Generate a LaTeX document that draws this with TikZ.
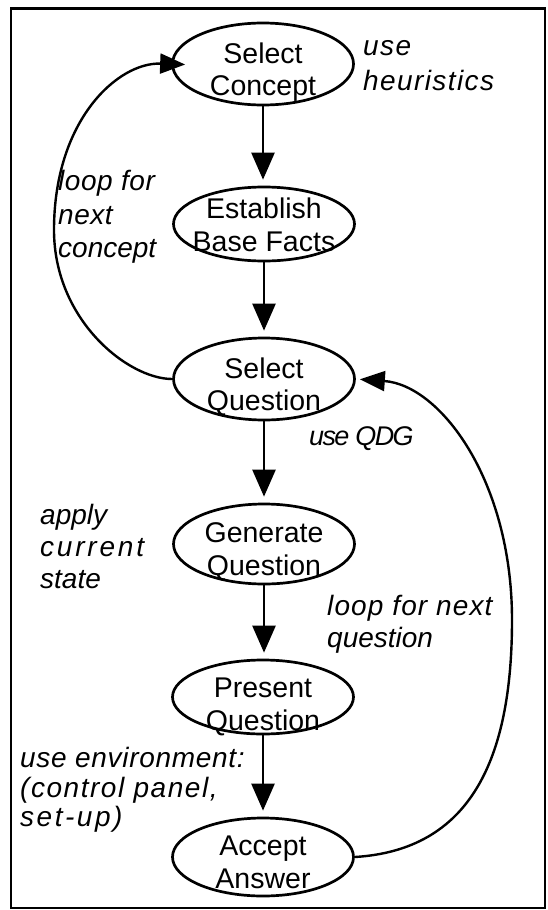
\documentclass[tikz,border=0pt]{standalone}
\usepackage{fontspec}
\setmainfont{Liberation Sans}
\usetikzlibrary{arrows.meta,calc,shapes.geometric}
\newcommand\lsp[2]{{\addfontfeatures{LetterSpace=#1}#2}}
\begin{document}
\begin{tikzpicture}[x=1pt,y=-1pt,
  ell/.style={draw, ellipse, line width=2.7pt, minimum width=181pt, inner sep=0pt},
  ntext/.style={font=\fontsize{28.5}{32}\selectfont, inner sep=0pt, anchor=base},
  lbl/.style={font=\fontsize{28}{33}\selectfont\itshape, inner sep=0pt, anchor=base west},
  flow/.style={line width=2.5pt, shorten >=6pt, -{Triangle[width=23pt,length=27pt]}},
  loopar/.style={line width=2.4pt, -{Triangle[width=20pt,length=25pt]}},
  frame/.style={line width=2pt}
]
\useasboundingbox (0,0) rectangle (547,910);
\draw[frame] (11,8) rectangle (545,908);
\draw[line width=3pt] (11,8) -- (545,8);

% ellipses
\node[ell, minimum height=82pt] (sc) at (263,64) {};
\node[ell, minimum height=74pt] (eb) at (264,224) {};
\node[ell, minimum height=82pt] (sq) at (264,379) {};
\node[ell, minimum height=80pt] (gq) at (264,544) {};
\node[ell, minimum height=74pt] (pq) at (263,697) {};
\node[ell, minimum height=78pt] (aa) at (263,857) {};

% ellipse texts
\node[ntext] (sc1) at ($(sc)+(0,-1)$) {Select};
\node[ntext] (sc2) at ($(sc)+(0,31)$) {Concept};
\node[ntext] (eb1) at ($(eb)+(0,-6)$) {Establish};
\node[ntext] (eb2) at ($(eb)+(0,27)$) {Base Facts};
\node[ntext] (sq1) at ($(sq)+(0,-1)$) {Select};
\node[ntext] (sq2) at ($(sq)+(0,31)$) {Question};
\node[ntext] (gq1) at ($(gq)+(0,-2)$) {Generate};
\node[ntext] (gq2) at ($(gq)+(0,31)$) {Question};
\node[ntext] (pq1) at ($(pq)+(0,0)$) {Present};
\node[ntext] (pq2) at ($(pq)+(0,33)$) {Question};
\node[ntext] (aa1) at ($(aa)+(0,-2)$) {Accept};
\node[ntext] (aa2) at ($(aa)+(0,31)$) {Answer};

% flow arrows
\draw[flow] (sc.south) -- (sc.south |- eb.north);
\draw[flow] (eb.south) -- (eb.south |- sq.north);
\draw[flow] (sq.south) -- (sq.south |- gq.north);
\draw[flow] (gq.south) -- (gq.south |- pq.north);
\draw[flow] (pq.south) -- (pq.south |- aa.north);

% loops
\draw[loopar, shorten >=-14pt] (sq.west) .. controls (128,379) and (54,320) .. (54,230)
      .. controls (54,120) and (118,62) .. (sc.west);
\draw[loopar, shorten >=4pt] (aa.east) .. controls (470,850) and (512,760) .. (512,620)
      .. controls (512,480) and (440,385) .. (sq.east);

% labels
\node[lbl] (h1) at (363,55) {\lsp{5}{use}};
\node[lbl] (h2) at (363,90) {\lsp{5}{heuristics}};
\node[lbl] (c1) at (58,190) {\lsp{2}{loop for}};
\node[lbl] (c2) at (58,224) {\lsp{2}{next}};
\node[lbl] (c3) at (58,257) {\lsp{0}{concept}};
\node[lbl, font=\fontsize{27}{30}\selectfont\itshape] (qdg) at (309,445) {\lsp{-6}{use QDG}};
\node[lbl] (a1) at (40,524) {apply};
\node[lbl] (a2) at (40,556) {\lsp{10}{current}};
\node[lbl] (a3) at (40,588) {state};
\node[lbl] (q1) at (327,615) {\lsp{4}{loop for next}};
\node[lbl] (q2) at (327,647) {question};
\node[lbl] (e1) at (20,767) {\lsp{2.5}{use environment:}};
\node[lbl] (e2) at (20,797) {\lsp{5.5}{(control panel,}};
\node[lbl] (e3) at (20,826) {\lsp{9}{set-up)}};
\end{tikzpicture}
\end{document}
